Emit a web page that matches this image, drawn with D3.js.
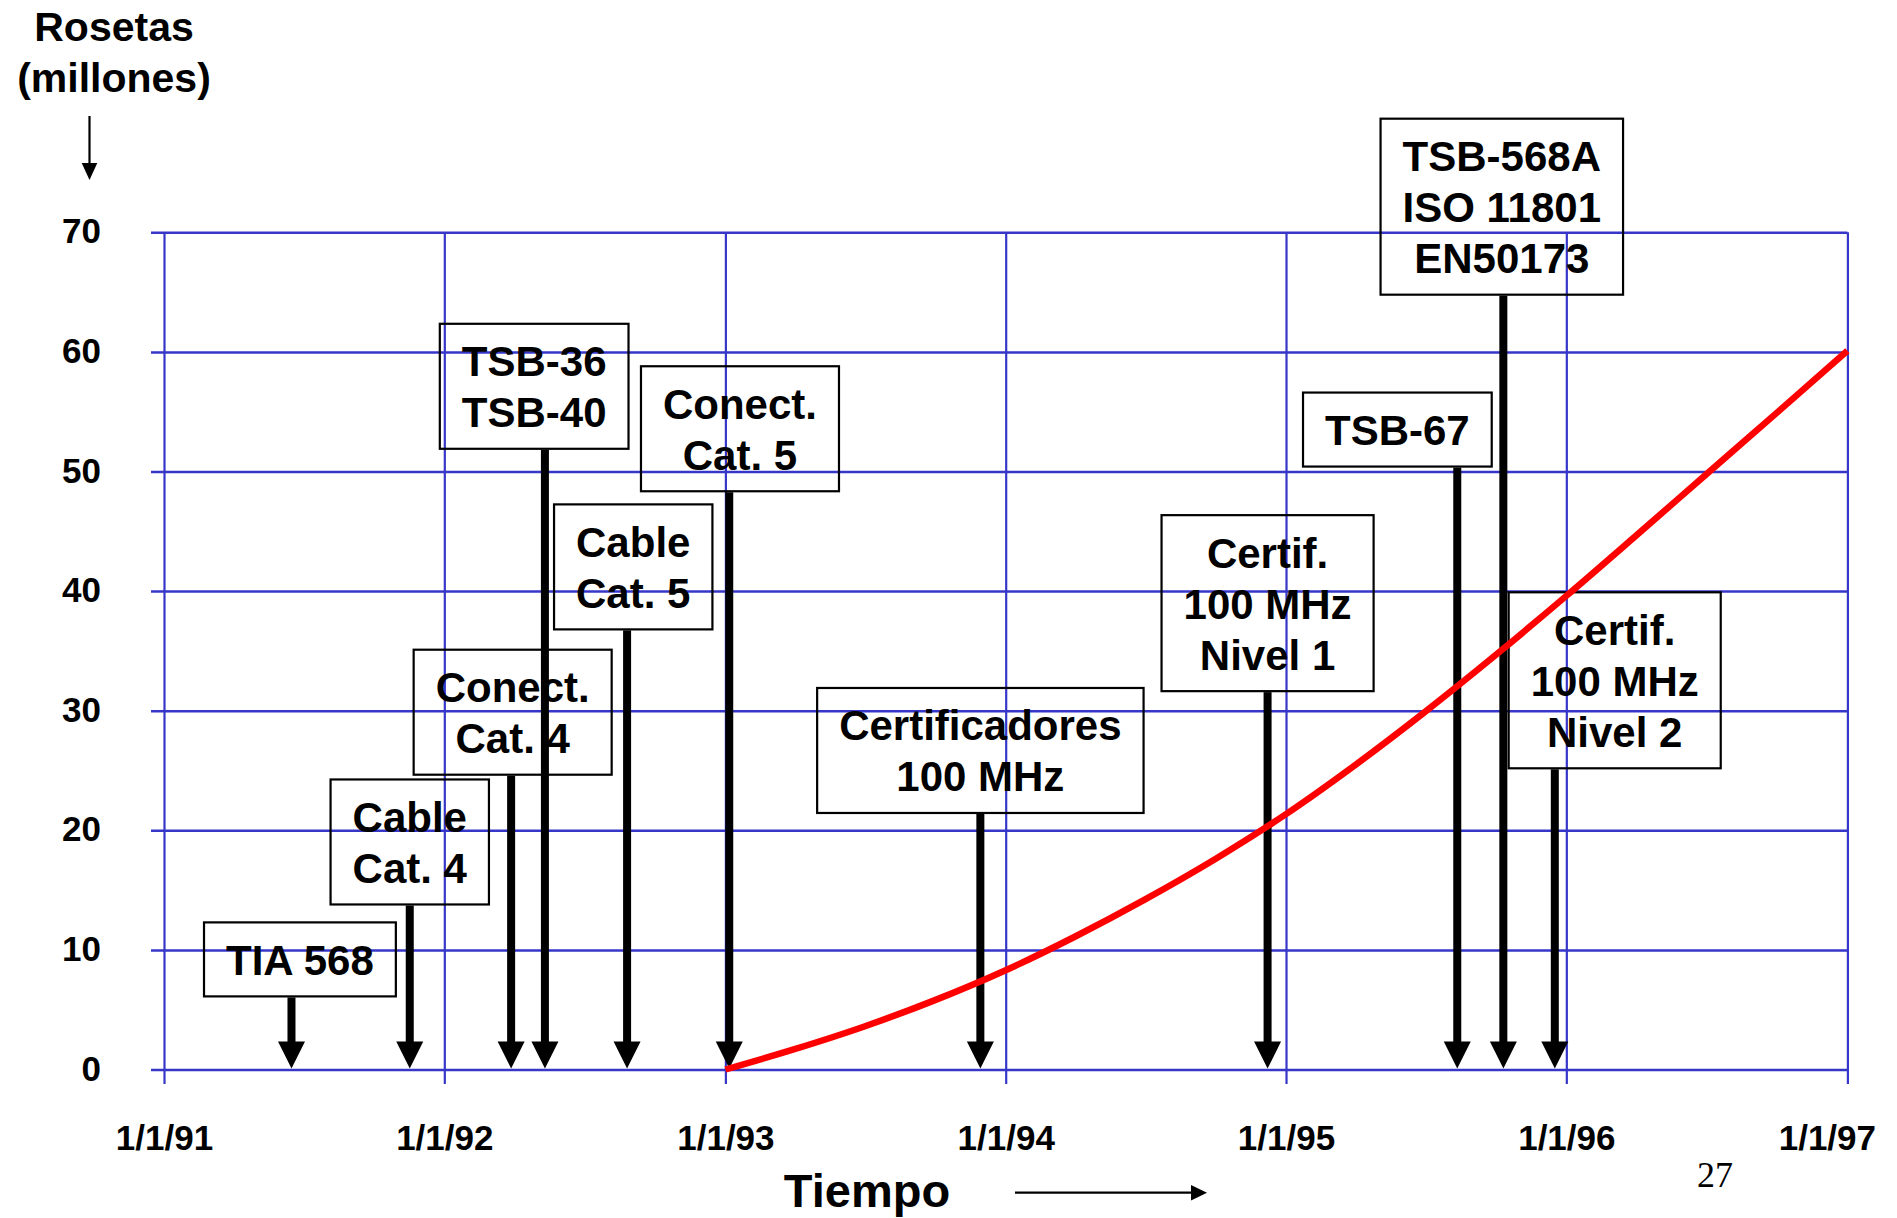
<!DOCTYPE html>
<html lang="es">
<head>
<meta charset="utf-8">
<title>Rosetas instaladas y normas de cableado</title>
<script src="https://cdn.jsdelivr.net/npm/d3@7/dist/d3.min.js"></script>
<style>
  html, body { margin: 0; padding: 0; background: #ffffff; }
  svg { display: block; }
  text { font-family: "Liberation Sans", Arial, Helvetica, sans-serif; font-weight: bold; fill: #000; }
  .folio { font-family: "Liberation Serif", "Times New Roman", serif; font-weight: normal; }
</style>
</head>
<body>
<svg id="chart" width="1897" height="1218"></svg>
<script>
// ---- values ----
const yTickValues = [0, 10, 20, 30, 40, 50, 60, 70];
const xTickDates = ["1991-01-01", "1992-01-01", "1993-01-01", "1994-01-01",
                    "1995-01-01", "1996-01-01", "1997-01-01"];

// installed outlets (millions), quarterly from 1993 to 1997
const curveDates = ["1993-01-01", "1993-04-01", "1993-07-01", "1993-10-01",
                    "1994-01-01", "1994-04-01", "1994-07-01", "1994-10-01",
                    "1995-01-01", "1995-04-01", "1995-07-01", "1995-10-01",
                    "1996-01-01", "1996-04-01", "1996-07-01", "1996-10-01",
                    "1997-01-01"];
const curveValues = [0, 1.7, 3.6, 5.8, 8.3, 11.1, 14.2, 17.6, 21.35,
                     25.45, 29.9, 34.65, 39.6, 44.65, 49.75, 54.9, 60.1];

// milestones: label lines and the date each one points at
const milestoneLabels = [
  ["TIA 568"],
  ["Cable", "Cat. 4"],
  ["Conect.", "Cat. 4"],
  ["TSB-36", "TSB-40"],
  ["Cable", "Cat. 5"],
  ["Conect.", "Cat. 5"],
  ["Certificadores", "100 MHz"],
  ["Certif.", "100 MHz", "Nivel 1"],
  ["TSB-67"],
  ["TSB-568A", "ISO 11801", "EN50173"],
  ["Certif.", "100 MHz", "Nivel 2"]
];
const milestoneDates = ["1991-06-16", "1991-11-17", "1992-03-28", "1992-05-11",
                        "1992-08-26", "1993-01-06", "1993-11-29", "1994-12-08",
                        "1995-08-12", "1995-10-11", "1995-12-17"];

// where each callout box sits, in chart units (box centre date, box top value)
const calloutCenterDates = ["1991-06-27", "1991-11-17", "1992-03-30", "1992-04-27",
                            "1992-09-03", "1993-01-20", "1993-11-29", "1994-12-08",
                            "1995-05-26", "1995-10-09", "1996-03-04"];
const calloutTopValues = [12.3, 24.25, 35.1, 62.35, 47.25, 58.8, 31.9, 46.35, 56.6, 79.5, 39.9];

// ---- drawing ----
const W = 1897, H = 1218;
const parse = d3.timeParse("%Y-%m-%d");
const svg = d3.select("#chart");

const x = d3.scaleTime()
  .domain([parse(xTickDates[0]), parse(xTickDates[xTickDates.length - 1])])
  .range([164, 1847.4]);
const y = d3.scaleLinear().domain([0, 70]).range([1069.5, 232.3]);

const gridColor = "#3636c8";
const gridLeft = 151, gridBottom = 1084;

// horizontal grid + value labels
const yAxis = d3.axisLeft(y)
  .tickValues(yTickValues)
  .tickFormat(d3.format("d"))
  .tickSize(-(x.range()[1] - gridLeft))
  .tickPadding(50);
const gy = svg.append("g").attr("transform", `translate(${gridLeft},0)`).call(yAxis);
gy.select(".domain").remove();
gy.selectAll(".tick line").attr("stroke", gridColor).attr("stroke-width", 2.5);
gy.selectAll(".tick text")
  .attr("font-size", 35).attr("font-weight", "bold")
  .attr("font-family", "'Liberation Sans', Arial, sans-serif")
  .attr("fill", "#000").attr("dy", "0.3em");

// vertical grid + date labels
const fmt = d3.timeFormat("%-m/%-d/%y");
const xAxis = d3.axisBottom(x)
  .tickValues(xTickDates.map(parse))
  .tickFormat(fmt)
  .tickSize(gridBottom - y(70))
  .tickPadding(41);
const gx = svg.append("g").attr("transform", `translate(0,${y(70)})`).call(xAxis);
gx.select(".domain").remove();
gx.selectAll(".tick line").attr("stroke", gridColor).attr("stroke-width", 2.2);
gx.selectAll(".tick text")
  .attr("font-size", 35).attr("font-weight", "bold")
  .attr("font-family", "'Liberation Sans', Arial, sans-serif")
  .attr("fill", "#000");
// keep the last date label inside the page
gx.selectAll(".tick text").each(function () {
  const t = d3.select(this);
  const tr = d3.select(this.parentNode).attr("transform");
  const tx = +tr.match(/translate\(([-\d.]+)/)[1];
  const w = this.getComputedTextLength();
  const over = tx + w / 2 - (W - 21);
  if (over > 0) t.attr("x", -over);
});

// callout boxes and arrows
const shaftW = 8, headW = 27, headL = 27, lineH = 51, padX = 22;
const tipY = y(0) - 1;
const callouts = svg.append("g");
milestoneLabels.forEach((lines, i) => {
  const cx = x(parse(calloutCenterDates[i]));
  const top = y(calloutTopValues[i]);
  const ax = x(parse(milestoneDates[i]));
  const g = callouts.append("g");
  const txt = g.selectAll("text").data(lines).join("text")
    .attr("x", cx)
    .attr("y", (d, k) => top + 52.5 + k * lineH)
    .attr("text-anchor", "middle")
    .attr("font-size", 42)
    .text(d => d);
  let maxW = 0;
  txt.each(function () { maxW = Math.max(maxW, this.getComputedTextLength()); });
  const bw = maxW + 2 * padX;
  const bh = 23 + lineH * lines.length;
  g.insert("rect", "text")
    .attr("x", cx - bw / 2).attr("y", top)
    .attr("width", bw).attr("height", bh)
    .attr("fill", "none").attr("stroke", "#000").attr("stroke-width", 2.2);
  const bottom = top + bh;
  g.append("rect")
    .attr("x", ax - shaftW / 2).attr("y", bottom + 1)
    .attr("width", shaftW).attr("height", tipY - headL - bottom + 2)
    .attr("fill", "#000");
  g.append("path")
    .attr("d", `M${ax - headW / 2},${tipY - headL} L${ax + headW / 2},${tipY - headL} L${ax},${tipY} Z`)
    .attr("fill", "#000");
});

// growth curve
const curveData = curveDates.map((d, i) => ({ date: parse(d), v: curveValues[i] }));
svg.append("path")
  .datum(curveData)
  .attr("fill", "none")
  .attr("stroke", "#ff0000")
  .attr("stroke-width", 6.5)
  .attr("d", d3.line().x(d => x(d.date)).y(d => y(d.v)).curve(d3.curveMonotoneX));

// axis titles
svg.append("text").attr("x", 114).attr("y", 41).attr("text-anchor", "middle")
  .attr("font-size", 41).text("Rosetas");
svg.append("text").attr("x", 114).attr("y", 92).attr("text-anchor", "middle")
  .attr("font-size", 41).text("(millones)");
svg.append("line").attr("x1", 89.5).attr("x2", 89.5).attr("y1", 116).attr("y2", 164)
  .attr("stroke", "#000").attr("stroke-width", 2.2);
svg.append("path").attr("d", "M81.7,163 L97.3,163 L89.5,180 Z").attr("fill", "#000");

svg.append("text").attr("x", 867).attr("y", 1207).attr("text-anchor", "middle")
  .attr("font-size", 47).text("Tiempo");
svg.append("line").attr("x1", 1015).attr("x2", 1192).attr("y1", 1192.7).attr("y2", 1192.7)
  .attr("stroke", "#000").attr("stroke-width", 2.2);
svg.append("path").attr("d", "M1191,1185 L1207,1192.7 L1191,1200.4 Z").attr("fill", "#000");

// slide number
svg.append("text").attr("class", "folio").attr("x", 1715).attr("y", 1186.5)
  .attr("text-anchor", "middle").attr("font-size", 36).text("27");
</script>
</body>
</html>
